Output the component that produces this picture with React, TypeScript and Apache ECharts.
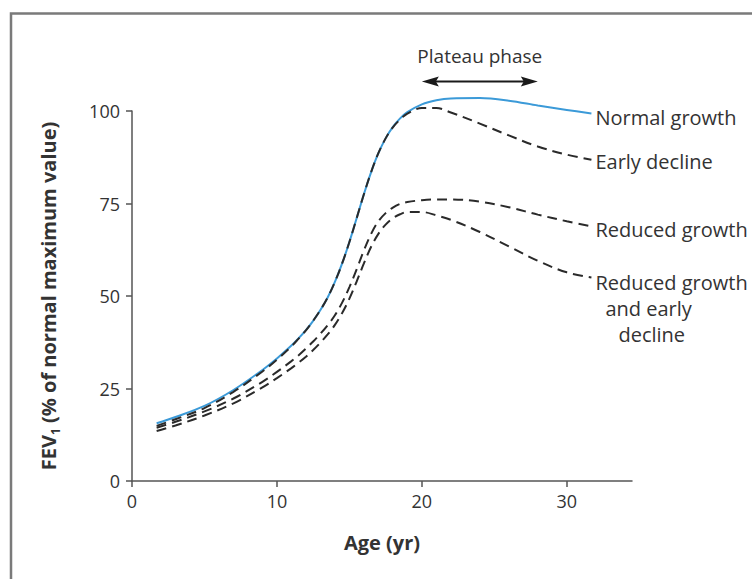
import React, { useEffect, useRef } from "react";
import * as echarts from "echarts";

const ages = [1.7, 3, 5, 7, 9, 10, 11, 11.5, 12, 12.5, 13, 13.5, 14, 14.5, 15, 15.5, 16, 16.5, 17, 17.5, 18, 18.5, 19, 20, 21, 22, 24, 26, 28, 30, 31.7];
const normalGrowth = [15.6, 17.3, 20.3, 24.6, 30.0, 33.1, 36.6, 38.6, 40.8, 43.3, 46.2, 49.6, 53.8, 58.8, 64.6, 71.0, 77.5, 83.5, 88.6, 92.6, 95.7, 98.0, 99.7, 101.8, 102.9, 103.4, 103.5, 102.8, 101.5, 100.3, 99.3];
const earlyDecline = [14.9, 16.7, 19.7, 24.1, 29.6, 32.8, 36.4, 38.5, 40.7, 43.3, 46.2, 49.6, 53.8, 58.8, 64.6, 71.0, 77.5, 83.5, 88.6, 92.6, 95.6, 97.7, 99.3, 100.8, 100.8, 99.6, 96.6, 93.4, 90.4, 88.2, 86.8];
const reducedGrowth = [14.4, 16.0, 18.8, 22.3, 26.8, 29.5, 32.4, 34.0, 35.8, 37.7, 39.8, 42.1, 44.8, 48.2, 52.4, 57.2, 62.3, 66.8, 70.2, 72.4, 73.9, 74.9, 75.4, 75.9, 76.1, 76.1, 75.5, 74.0, 72.0, 70.2, 68.8];
const reducedEarly = [13.5, 15.0, 17.7, 21.0, 25.3, 27.8, 30.5, 32.0, 33.6, 35.4, 37.4, 39.6, 42.2, 45.4, 49.3, 53.9, 58.8, 63.3, 66.8, 69.3, 71.0, 72.1, 72.7, 72.7, 71.8, 70.6, 67.3, 63.4, 59.5, 56.4, 55.0];

const xTicks = [0, 10, 20, 30];
const plateauRange = [20, 28];
const plateauLevel = 108;

const FONT = "'Open Sans', sans-serif";
const TEXT = "#333";
const AXIS = "#555";

function pairs(vals: number[]) {
  return ages.map((a, i) => [a, vals[i]]);
}

export default function App() {
  const ref = useRef<HTMLDivElement>(null);
  useEffect(() => {
    if (!ref.current) return;
    const chart = echarts.init(ref.current, undefined, { renderer: "svg" });
    const dashed = {
      color: "#2a2a2a",
      width: 2,
      type: [10, 6] as any,
    };
    const labelBase = {
      show: true,
      color: TEXT,
      fontFamily: FONT,
      fontSize: 20,
      distance: 4,
    };
    const frame = {
      id: "frame",
      type: "rect",
      shape: { x: 11, y: 13.5, width: 800, height: 620 },
      style: { fill: "none", stroke: "#7a7a7a", lineWidth: 2.5 },
      silent: true,
    };
    chart.setOption({
      animation: false,
      graphic: [frame],
      grid: { left: 132, right: 120, top: 111, bottom: 98 },
      xAxis: {
        type: "value",
        min: 0,
        max: 34.5,
        interval: 10,
        name: "Age (yr)",
        nameLocation: "middle",
        nameGap: 51,
        nameTextStyle: { fontFamily: FONT, fontSize: 20, fontWeight: "bold", color: TEXT },
        splitLine: { show: false },
        axisLine: { lineStyle: { color: AXIS, width: 1.5 } },
        axisTick: { customValues: xTicks, length: 6, lineStyle: { color: AXIS, width: 1.5 } },
        axisLabel: { customValues: xTicks, fontFamily: FONT, fontSize: 18, color: TEXT, margin: 11 },
      },
      yAxis: {
        type: "value",
        min: 0,
        max: 100,
        interval: 25,
        name: "{b|FEV}{s|1}{b| (% of normal maximum value)}",
        nameLocation: "middle",
        nameGap: 71,
        nameTextStyle: {
          color: TEXT,
          rich: {
            b: { fontFamily: FONT, fontSize: 20, fontWeight: "bold", color: TEXT, lineHeight: 26 },
            s: { fontFamily: FONT, fontSize: 12, fontWeight: "bold", color: TEXT, lineHeight: 26, verticalAlign: "bottom", padding: [9, 0, 0, 0] },
          },
        },
        splitLine: { show: false },
        axisLine: { show: true, lineStyle: { color: AXIS, width: 1.5 } },
        axisTick: { show: true, length: 6, lineStyle: { color: AXIS, width: 1.5 } },
        axisLabel: { fontFamily: FONT, fontSize: 18, color: TEXT, margin: 12 },
      },
      series: [
        {
          name: "Normal growth",
          type: "line",
          data: pairs(normalGrowth),
          smooth: 0.35,
          showSymbol: false,
          clip: false,
          lineStyle: { color: "#3b9ad8", width: 2 },
          endLabel: { ...labelBase, formatter: "Normal growth", offset: [0, 4] },
        },
        {
          name: "Early decline",
          type: "line",
          data: pairs(earlyDecline),
          smooth: 0.35,
          showSymbol: false,
          clip: false,
          lineStyle: dashed,
          endLabel: { ...labelBase, formatter: "Early decline", offset: [0, 2] },
        },
        {
          name: "Reduced growth",
          type: "line",
          data: pairs(reducedGrowth),
          smooth: 0.35,
          showSymbol: false,
          clip: false,
          lineStyle: dashed,
          endLabel: { ...labelBase, formatter: "Reduced growth", offset: [0, 3] },
        },
        {
          name: "Reduced growth and early decline",
          type: "line",
          data: pairs(reducedEarly),
          smooth: 0.35,
          showSymbol: false,
          clip: false,
          lineStyle: dashed,
          endLabel: {
            ...labelBase,
            formatter: "{a|Reduced growth}\n{b|and early}\n{c|decline}",
            offset: [0, 31],
            lineHeight: 26,
            rich: {
              a: { fontFamily: FONT, fontSize: 20, color: TEXT, lineHeight: 26 },
              b: { fontFamily: FONT, fontSize: 20, color: TEXT, lineHeight: 26, padding: [0, 0, 0, 10] },
              c: { fontFamily: FONT, fontSize: 20, color: TEXT, lineHeight: 26, padding: [0, 0, 0, 23] },
            },
          },
        },
      ],
    });

    // Plateau phase arrow, positioned from data coordinates
    const p1 = chart.convertToPixel({ xAxisIndex: 0, yAxisIndex: 0 }, [plateauRange[0], plateauLevel]) as number[];
    const p2 = chart.convertToPixel({ xAxisIndex: 0, yAxisIndex: 0 }, [plateauRange[1], plateauLevel]) as number[];
    const y = p1[1];
    const head = 17;
    const half = 5;
    const arrowColor = "#1a1a1a";
    chart.setOption({
      graphic: [
        frame,
        {
          id: "plateauLine",
          type: "line",
          shape: { x1: p1[0] + head - 4, y1: y, x2: p2[0] - head + 4, y2: y },
          style: { stroke: arrowColor, lineWidth: 2 },
          silent: true,
        },
        {
          id: "plateauLeft",
          type: "polygon",
          shape: { points: [[p1[0], y], [p1[0] + head, y - half], [p1[0] + head - 3, y], [p1[0] + head, y + half]] },
          style: { fill: arrowColor },
          silent: true,
        },
        {
          id: "plateauRight",
          type: "polygon",
          shape: { points: [[p2[0], y], [p2[0] - head, y - half], [p2[0] - head + 3, y], [p2[0] - head, y + half]] },
          style: { fill: arrowColor },
          silent: true,
        },
        {
          id: "plateauText",
          type: "text",
          x: (p1[0] + p2[0]) / 2,
          y: y - 25,
          style: {
            text: "Plateau phase",
            fontFamily: FONT,
            fontSize: 19,
            fill: TEXT,
            align: "center",
            verticalAlign: "middle",
          },
          silent: true,
        },
      ],
    });
    return () => chart.dispose();
  }, []);
  return <div ref={ref} style={{ position: "fixed", left: 0, top: 0, width: 752, height: 579, background: "#fff" }} />;
}
